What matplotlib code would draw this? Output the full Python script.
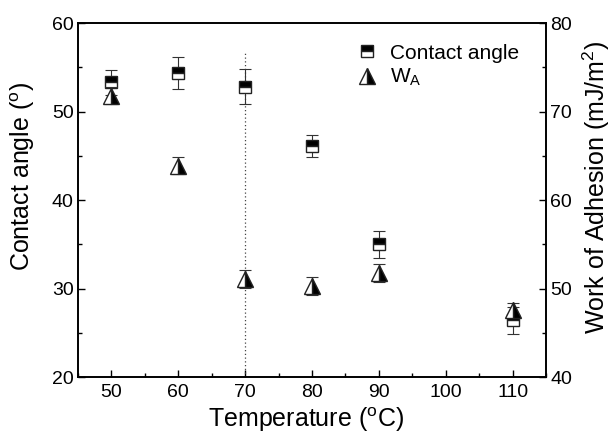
import matplotlib.pyplot as plt
from matplotlib.ticker import MultipleLocator

plt.rcParams['font.family'] = ['Liberation Sans', 'DejaVu Sans']
plt.rcParams['mathtext.fontset'] = 'custom'
plt.rcParams['mathtext.rm'] = 'Liberation Sans'
plt.rcParams['mathtext.it'] = 'Liberation Sans'

# temperature (°C)
temps = [50, 60, 70, 80, 90, 110]
# contact angle (°) and its error
angle = [53.3, 54.4, 52.8, 46.1, 35.0, 26.4]
angle_err = [1.4, 1.8, 2.0, 1.2, 1.5, 1.5]
# work of adhesion (mJ/m2) and its error
wa = [71.8, 63.9, 51.1, 50.3, 51.8, 47.6]
wa_err = [1.0, 1.0, 1.0, 1.0, 1.0, 0.8]

fig = plt.figure(figsize=(6.13, 4.34), dpi=100)
ax = fig.add_axes([0.127, 0.131, 0.764, 0.816])
ax2 = ax.twinx()

ax.axvline(70, ymax=0.918, color='#444444', lw=0.9, ls=(0, (1, 2)))

ax.errorbar(temps, angle, yerr=angle_err, fmt='none', ecolor='#333333',
            elinewidth=0.8, capsize=4, capthick=0.8, zorder=3)
ax.plot(temps, angle, ls='none', marker='s', ms=9, fillstyle='top',
        markerfacecolor='black', markerfacecoloralt='white',
        markeredgecolor='#222222', mew=1.0, zorder=4, label='Contact angle')

ax2.errorbar(temps, wa, yerr=wa_err, fmt='none', ecolor='#333333',
             elinewidth=0.8, capsize=4, capthick=0.8, zorder=3)
ax2.plot(temps, wa, ls='none', marker='^', ms=11, fillstyle='right',
         markerfacecolor='black', markerfacecoloralt='white',
         markeredgecolor='#222222', mew=1.0, zorder=4, label='W$_\\mathrm{A}$')

ax.set_xlim(45, 115)
ax.set_ylim(20, 60)
ax2.set_ylim(40, 80)
ax.xaxis.set_major_locator(MultipleLocator(10))
ax.xaxis.set_minor_locator(MultipleLocator(5))
ax.yaxis.set_major_locator(MultipleLocator(10))
ax.yaxis.set_minor_locator(MultipleLocator(5))
ax2.yaxis.set_major_locator(MultipleLocator(10))
ax2.yaxis.set_minor_locator(MultipleLocator(5))

for a in (ax, ax2):
    a.tick_params(which='both', direction='in', labelsize=14, width=1.0, pad=3)
    a.tick_params(which='major', length=5)
    a.tick_params(which='minor', length=3)
    for s in a.spines.values():
        s.set_linewidth(1.2)
ax.tick_params(top=False, right=False)
ax.tick_params(axis='x', pad=5)

ax.set_xlabel('Temperature ($^\\mathrm{o}$C)', fontsize=18)
ax.set_ylabel('Contact angle ($^\\mathrm{o}$)', fontsize=18)
ax2.set_ylabel('Work of Adhesion (mJ/m$^\\mathrm{2}$)', fontsize=18)
ax.xaxis.set_label_coords(0.487, -0.08)
ax.yaxis.set_label_coords(-0.088, 0.568)
ax2.yaxis.set_label_coords(1.074, 0.537)

h1, l1 = ax.get_legend_handles_labels()
h2, l2 = ax2.get_legend_handles_labels()
ax2.legend(h1 + h2, l1 + l2, loc='upper left', bbox_to_anchor=(0.578, 0.965),
           borderaxespad=0, frameon=False, fontsize=15, handlelength=1.0,
           handletextpad=0.6, labelspacing=0.2)

fig.savefig('out.png', dpi=100)
